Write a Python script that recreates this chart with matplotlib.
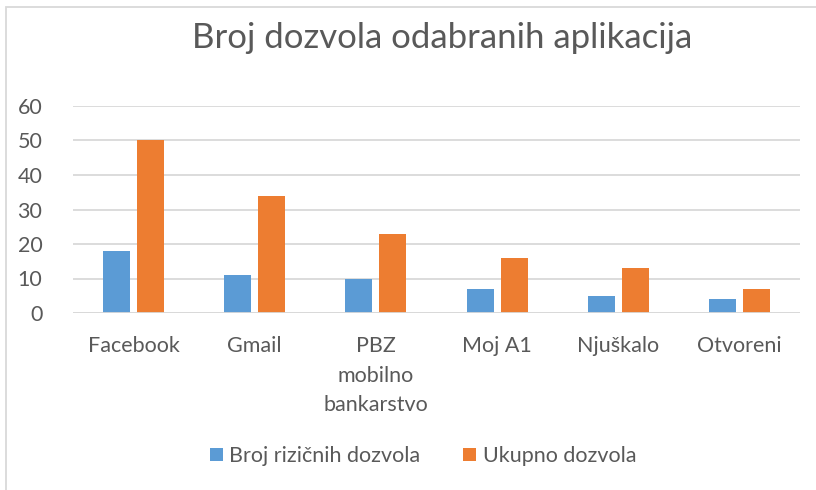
import matplotlib.pyplot as plt
from matplotlib.patches import Rectangle
import numpy as np

plt.rcParams['font.family'] = ['Lato', 'DejaVu Sans']

categories = ['Facebook', 'Gmail', 'PBZ\nmobilno\nbankarstvo', 'Moj A1', 'Njuškalo', 'Otvoreni']
rizicne = [18, 11, 10, 7, 5, 4]
ukupno = [50, 34, 23, 16, 13, 7]

text_col = '#595959'
grid_col = '#D9D9D9'

fig = plt.figure(figsize=(8.16, 4.9), dpi=100)

# okvir grafikona (desni i donji rub su izvan slike)
fig.patches.append(Rectangle((6 / 816, -0.1), 1.2, 1 - 7 / 490 + 0.1, transform=fig.transFigure,
                             fill=False, edgecolor=grid_col, linewidth=1.3))

ax = fig.add_axes([73 / 816, 1 - 313 / 490, (800 - 73) / 816, (313 - 106) / 490])

x = np.arange(len(categories))
w = 0.223
gap = 0.058
ax.bar(x - (w + gap) / 2, rizicne, w, color='#5B9BD5', label='Broj rizičnih dozvola', zorder=3)
ax.bar(x + (w + gap) / 2, ukupno, w, color='#ED7D31', label='Ukupno dozvola', zorder=3)

ax.set_xlim(-0.5, len(categories) - 0.5)
ax.set_ylim(0, 60)
ax.set_yticks(range(0, 61, 10))
ax.yaxis.grid(True, color=grid_col, linewidth=1.3, zorder=0)
for s in ax.spines.values():
    s.set_visible(False)
ax.axhline(0, color=grid_col, linewidth=1.3, zorder=4)
ax.tick_params(length=0, labelsize=15.5, colors=text_col)
ax.tick_params(axis='y', pad=22)
ax.tick_params(axis='x', pad=16.5)
ax.set_xticks(x)
ax.set_xticklabels(categories, linespacing=1.6, va='top')

fig.text(442 / 816, 1 - 38 / 490, 'Broj dozvola odabranih aplikacija', ha='center', va='center',
         fontsize=25, color=text_col)

fig.legend(loc='center', bbox_to_anchor=(423 / 816, 1 - 456 / 490), ncol=2, frameon=False,
           fontsize=15.5, labelcolor=text_col, handlelength=0.6, handleheight=0.6,
           handletextpad=0.3, columnspacing=2.0)

fig.savefig('out.png', dpi=100)
